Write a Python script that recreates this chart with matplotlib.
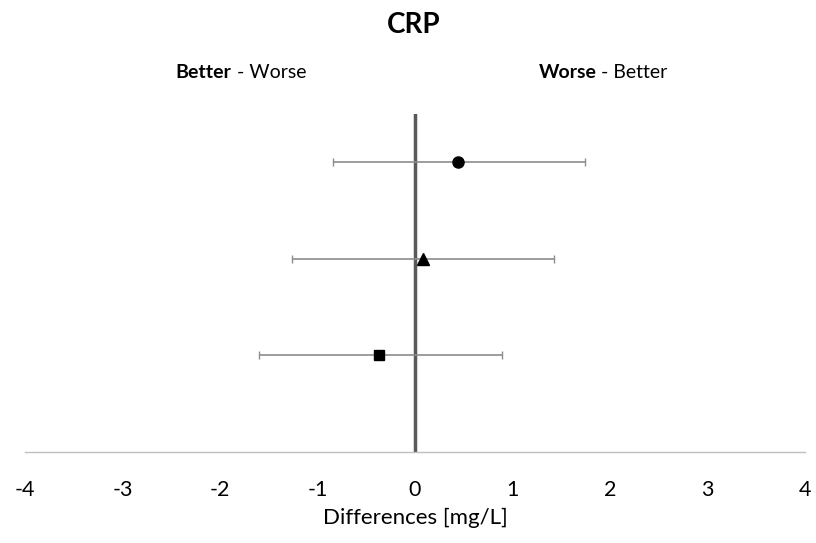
import numpy as np
import matplotlib.pyplot as plt

plt.rcParams['font.family'] = ['Lato', 'DejaVu Sans']

# three comparisons, top to bottom
rows = [3, 2, 1]
means = [0.44, 0.08, -0.365]
lower = [-0.84, -1.26, -1.60]
upper = [1.74, 1.43, 0.89]
markers = ['o', '^', 's']
xticks = [-4, -3, -2, -1, 0, 1, 2, 3, 4]

fig = plt.figure(figsize=(8.16, 5.43), dpi=100)
ax = fig.add_axes([25 / 816, 91 / 543, 780 / 816, 338 / 543])

ax.axvline(0, color='#595959', lw=2.5, zorder=1)

for y, m, lo, hi, mk in zip(rows, means, lower, upper, markers):
    ax.errorbar(m, y, xerr=[[m - lo], [hi - m]], fmt='none', ecolor='#8c8c8c',
                elinewidth=1.2, capsize=3, capthick=1.0, zorder=2)
    ax.plot(m, y, marker=mk, color='black', markersize=8 if mk != 's' else 7.5,
            ls='none', zorder=3)

ax.set_xlim(-4, 4)
ax.set_ylim(0, 3.5)
ax.set_xticks(xticks)
ax.set_xticklabels([str(t) for t in xticks], fontsize=15.5)
ax.tick_params(axis='x', length=0, pad=20)
ax.set_yticks([])
for s in ['top', 'right', 'left']:
    ax.spines[s].set_visible(False)
ax.spines['bottom'].set_color('#bfbfbf')
ax.spines['bottom'].set_linewidth(1.0)

ax.set_xlabel('Differences [mg/L]', fontsize=16, labelpad=6)

fig.text(0.507, 1 - 25 / 543, 'CRP', fontsize=20, fontweight='bold',
         ha='center', va='center')

ax.text(-1.88, 3.93, 'Better', fontsize=14, fontweight='bold',
        ha='right', va='center', clip_on=False)
ax.text(-1.88, 3.93, ' - Worse', fontsize=14, ha='left', va='center', clip_on=False)
ax.text(1.86, 3.93, 'Worse', fontsize=14, fontweight='bold',
        ha='right', va='center', clip_on=False)
ax.text(1.86, 3.93, ' - Better', fontsize=14, ha='left', va='center', clip_on=False)

fig.savefig('out.png', dpi=100)
